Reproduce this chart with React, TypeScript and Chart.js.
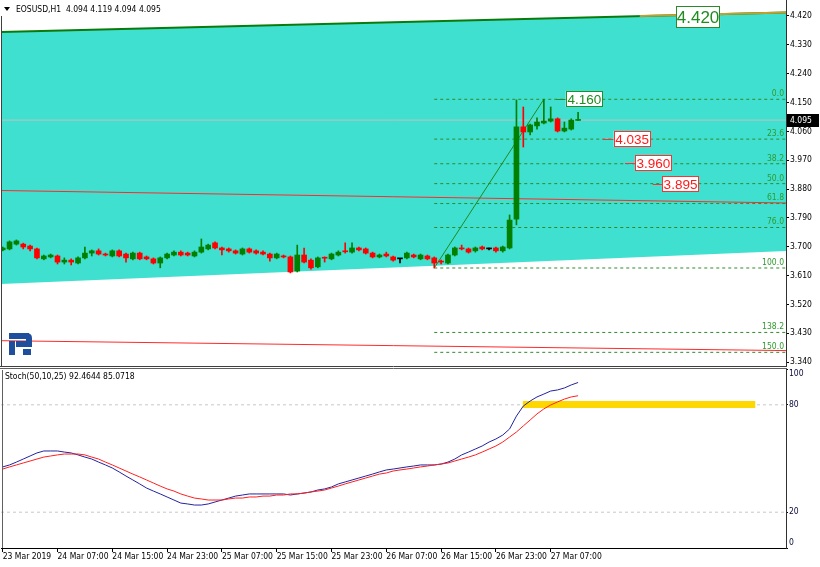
import React, { useEffect, useRef } from "react";
import { Chart, registerables } from "chart.js";

Chart.register(...registerables);

const FONT = "'DejaVu Sans Condensed', 'Liberation Sans', Arial, sans-serif";
const LABEL_FONT = "'Liberation Sans', Arial, sans-serif";
const SMALL = 8.5;

const symbolTitle = "EOSUSD,H1  4.094 4.119 4.094 4.095";
const stochTitle = "Stoch(50,10,25) 92.4644 85.0718";

// ---- time axis (bar index 0 = 23 Mar 23:00, H1 bars) ----
const timeTickBars = [0, 8, 16, 24, 32, 40, 48, 56, 64, 72, 80];
const timeTickLabels = [
  "23 Mar 2019", "24 Mar 07:00", "24 Mar 15:00", "24 Mar 23:00", "25 Mar 07:00",
  "25 Mar 15:00", "25 Mar 23:00", "26 Mar 07:00", "26 Mar 15:00", "26 Mar 23:00", "27 Mar 07:00",
];

// ---- OHLC ----
const opens = [
  3.690, 3.693, 3.708, 3.708, 3.702, 3.693, 3.662, 3.668, 3.671, 3.652,
  3.658, 3.649, 3.665, 3.680, 3.687, 3.677, 3.671, 3.687, 3.677, 3.662,
  3.680, 3.668, 3.662, 3.649, 3.665, 3.674, 3.683, 3.680, 3.671, 3.683,
  3.693, 3.712, 3.696, 3.693, 3.687, 3.677, 3.693, 3.687, 3.683, 3.677,
  3.665, 3.671, 3.668, 3.624, 3.674, 3.658, 3.637, 3.665, 3.662, 3.674,
  3.687, 3.683, 3.696, 3.693, 3.680, 3.668, 3.677, 3.668, 3.662, 3.665,
  3.674, 3.662, 3.671, 3.665, 3.655, 3.649, 3.674, 3.696, 3.693, 3.687,
  3.699, 3.693, 3.696, 3.687, 3.696, 3.786, 4.074, 4.058, 4.077, 4.086,
  4.092, 4.099, 4.061, 4.067, 4.094,
];
const highs = [
  3.699, 3.718, 3.721, 3.711, 3.705, 3.696, 3.674, 3.677, 3.674, 3.665,
  3.662, 3.668, 3.699, 3.690, 3.693, 3.680, 3.690, 3.690, 3.680, 3.683,
  3.683, 3.671, 3.665, 3.668, 3.680, 3.687, 3.687, 3.683, 3.687, 3.724,
  3.708, 3.715, 3.699, 3.696, 3.690, 3.696, 3.696, 3.690, 3.687, 3.680,
  3.680, 3.674, 3.671, 3.705, 3.696, 3.662, 3.668, 3.668, 3.680, 3.687,
  3.712, 3.712, 3.699, 3.696, 3.683, 3.677, 3.683, 3.671, 3.662, 3.683,
  3.677, 3.677, 3.674, 3.668, 3.658, 3.677, 3.699, 3.705, 3.696, 3.699,
  3.702, 3.696, 3.699, 3.702, 3.799, 4.158, 4.136, 4.083, 4.102, 4.160,
  4.136, 4.102, 4.089, 4.099, 4.119,
];
const lows = [
  3.687, 3.690, 3.705, 3.693, 3.687, 3.662, 3.659, 3.665, 3.646, 3.646,
  3.643, 3.646, 3.662, 3.671, 3.674, 3.671, 3.668, 3.668, 3.652, 3.659,
  3.659, 3.659, 3.646, 3.634, 3.662, 3.671, 3.671, 3.671, 3.668, 3.680,
  3.690, 3.693, 3.674, 3.683, 3.677, 3.674, 3.680, 3.677, 3.674, 3.655,
  3.662, 3.665, 3.618, 3.621, 3.649, 3.630, 3.634, 3.652, 3.659, 3.671,
  3.680, 3.680, 3.687, 3.677, 3.665, 3.665, 3.668, 3.655, 3.649, 3.662,
  3.665, 3.659, 3.659, 3.6335, 3.646, 3.646, 3.671, 3.690, 3.680, 3.683,
  3.690, 3.690, 3.683, 3.683, 3.693, 3.768, 4.011, 4.049, 4.067, 4.083,
  4.089, 4.058, 4.058, 4.064, 4.094,
];
const closes = [
  3.696, 3.715, 3.718, 3.699, 3.693, 3.665, 3.671, 3.674, 3.652, 3.658,
  3.652, 3.665, 3.680, 3.687, 3.677, 3.674, 3.687, 3.671, 3.665, 3.680,
  3.662, 3.662, 3.649, 3.665, 3.677, 3.683, 3.674, 3.674, 3.683, 3.699,
  3.705, 3.696, 3.690, 3.687, 3.680, 3.693, 3.683, 3.680, 3.677, 3.665,
  3.677, 3.668, 3.621, 3.674, 3.652, 3.634, 3.665, 3.664, 3.677, 3.683,
  3.684, 3.696, 3.690, 3.680, 3.668, 3.674, 3.671, 3.658, 3.662, 3.680,
  3.668, 3.674, 3.662, 3.649, 3.652, 3.674, 3.696, 3.693, 3.683, 3.696,
  3.693, 3.693, 3.687, 3.699, 3.783, 4.074, 4.058, 4.080, 4.089, 4.092,
  4.099, 4.061, 4.070, 4.095, 4.095,
];

// ---- Stochastic (50,10,25) ----
const stochMain = [
  45.3, 46.4, 48.0, 49.7, 51.4, 53.1, 54.2, 54.2, 54.2, 53.6,
  53.1, 52.0, 50.8, 49.7, 48.0, 46.4, 44.7, 42.5, 40.2, 38.0,
  35.8, 33.5, 31.8, 30.2, 28.5, 26.8, 25.1, 24.6, 24.0, 24.0,
  24.6, 25.7, 26.8, 27.9, 29.0, 29.6, 30.2, 30.2, 30.2, 30.2,
  30.2, 30.2, 29.6, 30.2, 30.7, 31.3, 32.4, 33.0, 34.1, 35.8,
  36.9, 38.0, 39.1, 40.2, 41.3, 42.5, 43.6, 44.1, 44.7, 45.3,
  45.8, 46.4, 46.4, 46.4, 46.9, 48.0, 49.7, 52.0, 53.6, 55.3,
  57.0, 59.2, 60.9, 63.1, 66.5, 73.7, 79.3, 82.1, 84.4, 86.0,
  87.7, 88.3, 89.4, 91.1, 92.4644,
];
const stochSignal = [
  44.1, 45.3, 46.4, 47.5, 48.6, 49.7, 50.8, 51.4, 52.0, 52.5,
  52.5, 52.5, 52.0, 50.8, 49.7, 48.0, 46.4, 44.7, 43.0, 41.3,
  39.7, 38.0, 36.3, 34.6, 33.0, 31.8, 30.2, 29.0, 27.9, 27.4,
  26.8, 26.8, 26.8, 27.4, 27.9, 27.9, 28.5, 28.5, 29.0, 29.0,
  29.6, 29.6, 30.2, 30.2, 30.7, 31.3, 31.8, 32.4, 33.5, 34.6,
  35.8, 36.9, 38.0, 39.1, 40.2, 41.3, 41.9, 43.0, 43.6, 44.1,
  44.7, 45.3, 45.8, 46.4, 46.9, 47.5, 48.6, 49.7, 50.8, 52.0,
  53.6, 55.3, 57.0, 59.2, 62.0, 64.8, 68.2, 71.5, 74.9, 77.7,
  79.9, 81.6, 83.2, 84.4, 85.0718,
];

// ---- axis ticks / ranges ----
const priceTicks = [3.34, 3.43, 3.52, 3.61, 3.70, 3.79, 3.88, 3.97, 4.06, 4.15, 4.24, 4.33, 4.42];
const stochTicks = [0, 20, 80, 100];
const stochLevels = [20, 80];
const X_MIN = -0.248;
const X_MAX = 114.35;
const PRICE_MIN = 3.3276;
const PRICE_MAX = 4.4699;

// ---- drawing objects (prices at channel ends = [left edge, right edge]) ----
const channelTop = [4.370, 4.4309];
const channelBottom = [3.5836, 3.6866];
const goldSegmentBars = [93, X_MAX];
const goldSegment = [4.4196, 4.4309];
const redUpper = [3.8753, 3.8364];
const redLower = [3.4066, 3.3757];
const currentPrice = 4.095;

const fibStartBar = 63;
const fibEndBar = 79;
const fibLow = 3.6335;
const fibHigh = 4.160;
const fibLevels = [0, 23.6, 38.2, 50, 61.8, 76, 100, 138.2, 150];

const labelPrices = [4.420, 4.160, 4.035, 3.960, 3.895];
const labelBars = [98.3, 82.2, 89.2, 92.3, 96.25];
const labelLeaderBars = [null, 80.8, 87.6, 90.85, 94.9];
const labelKinds = ["big", "green", "red", "red", "red"];

const stochZoneBars = [75.9, 109.9];
const stochZone = [78.2, 82.1];

const BULL = "#008000";
const BEAR = "#ff0000";
const DOJI = "#000000";
const candleColors = opens.map((o, i) => (closes[i] > o ? BULL : closes[i] < o ? BEAR : DOJI));

const seg = (x0: number, x1: number, y0: number, y1: number) => [
  { x: x0, y: y0 },
  { x: x1, y: y1 },
];

function lineDs(data: any[], color: string, width: number, order: number, extra: any = {}) {
  return {
    type: "line",
    data,
    borderColor: color,
    borderWidth: width,
    pointRadius: 0,
    fill: false,
    tension: 0,
    order,
    ...extra,
  };
}

const fibPrice = (lvl: number) => fibHigh - ((fibHigh - fibLow) * lvl) / 100;

const noPad = (s: any) => {
  s.paddingTop = 0;
  s.paddingBottom = 0;
  s.paddingLeft = 0;
  s.paddingRight = 0;
};

function drawBox(ctx: CanvasRenderingContext2D, x: number, yc: number, w: number, h: number, text: string, color: string, textColor: string, size: number) {
  ctx.fillStyle = "#ffffff";
  ctx.fillRect(x, Math.round(yc - h / 2), w, h);
  ctx.strokeStyle = color;
  ctx.lineWidth = 1;
  ctx.strokeRect(Math.round(x) + 0.5, Math.round(yc - h / 2) + 0.5, w - 1, h - 1);
  ctx.fillStyle = textColor;
  ctx.font = `${size}px ${LABEL_FONT}`;
  ctx.textAlign = "center";
  ctx.textBaseline = "middle";
  ctx.fillText(text, x + w / 2, yc + 1);
}

const priceOverlay = {
  id: "priceOverlay",
  afterDraw(chart: any) {
    const { ctx, chartArea } = chart;
    const xs = chart.scales.x;
    const ys = chart.scales.y;
    ctx.save();
    // frame
    ctx.strokeStyle = "#404040";
    ctx.lineWidth = 1;
    ctx.beginPath();
    ctx.moveTo(1.5, 16);
    ctx.lineTo(1.5, chartArea.bottom);
    ctx.moveTo(0, chartArea.bottom + 0.5);
    ctx.lineTo(chartArea.right + 1, chartArea.bottom + 0.5);
    ctx.stroke();

    // fibo level captions
    ctx.font = `${SMALL}px ${FONT}`;
    ctx.fillStyle = "#2e9a2e";
    ctx.textAlign = "right";
    ctx.textBaseline = "bottom";
    fibLevels.forEach((lvl) => {
      const py = ys.getPixelForValue(fibPrice(lvl));
      ctx.fillText(lvl.toFixed(1), chartArea.right - 2, py - 1);
    });

    // price label objects
    labelPrices.forEach((p, i) => {
      const kind = labelKinds[i];
      const px = xs.getPixelForValue(labelBars[i]);
      const py = ys.getPixelForValue(p);
      const isRed = kind === "red";
      const col = isRed ? "#ff3030" : "#2a8a2a";
      const tcol = isRed ? "#ff1a1a" : "#1e8c1e";
      const lb = labelLeaderBars[i];
      if (lb !== null) {
        ctx.strokeStyle = col;
        ctx.lineWidth = 1;
        ctx.beginPath();
        ctx.moveTo(xs.getPixelForValue(lb), Math.round(py) + 0.5);
        ctx.lineTo(px, Math.round(py) + 0.5);
        ctx.stroke();
      }
      if (kind === "big") drawBox(ctx, px, py + 1, 44, 22, p.toFixed(3), col, tcol, 17);
      else drawBox(ctx, px, py, 37, 16, p.toFixed(3), col, tcol, 13.5);
    });

    // current price tag on axis
    const cy = ys.getPixelForValue(currentPrice);
    ctx.fillStyle = "#000000";
    ctx.fillRect(chartArea.right + 1, Math.round(cy) - 6, 32, 13);
    ctx.fillStyle = "#ffffff";
    ctx.font = `${SMALL}px ${FONT}`;
    ctx.textAlign = "left";
    ctx.textBaseline = "middle";
    ctx.fillText(currentPrice.toFixed(3), chartArea.right + 4, Math.round(cy) + 0.5);

    // title
    ctx.fillStyle = "#000000";
    ctx.beginPath();
    ctx.moveTo(4, 7);
    ctx.lineTo(10, 7);
    ctx.lineTo(7, 11);
    ctx.closePath();
    ctx.fill();
    ctx.font = `${SMALL}px ${FONT}`;
    ctx.textAlign = "left";
    ctx.textBaseline = "middle";
    ctx.fillText(symbolTitle, 16, 9.5);

    // logo
    ctx.fillStyle = "#1f4f9c";
    ctx.fillRect(9, 333, 20, 6);
    ctx.beginPath();
    ctx.moveTo(26, 333);
    ctx.quadraticCurveTo(32, 333, 32, 338);
    ctx.lineTo(32, 347);
    ctx.lineTo(26, 347);
    ctx.closePath();
    ctx.fill();
    ctx.fillRect(16, 341, 16, 6);
    ctx.fillRect(9, 341, 6, 14);
    ctx.fillRect(23, 349, 8, 6);
    ctx.restore();
  },
};

const stochOverlay = {
  id: "stochOverlay",
  afterDraw(chart: any) {
    const { ctx, chartArea } = chart;
    const ys = chart.scales.y;
    ctx.save();
    ctx.strokeStyle = "#606060";
    ctx.lineWidth = 1;
    ctx.beginPath();
    ctx.moveTo(0, 0.5);
    ctx.lineTo(chartArea.right + 1, 0.5);
    ctx.moveTo(2.5, 2);
    ctx.lineTo(2.5, chartArea.bottom);
    ctx.stroke();
    ctx.fillStyle = "#000000";
    ctx.font = `${SMALL}px ${FONT}`;
    ctx.textAlign = "left";
    ctx.textBaseline = "middle";
    ctx.fillText(stochTitle, 5, 8.5);
    ctx.fillStyle = "#0a0a3a";
    ctx.fillText("100", chartArea.right + 3, ys.getPixelForValue(100) + 5);
    ctx.fillText("0", chartArea.right + 3, ys.getPixelForValue(0) - 5);
    ctx.restore();
  },
};

export default function App() {
  const priceRef = useRef<HTMLCanvasElement>(null);
  const stochRef = useRef<HTMLCanvasElement>(null);

  useEffect(() => {
    const fibDatasets = fibLevels.map((lvl) =>
      lineDs(seg(fibStartBar, X_MAX, fibPrice(lvl), fibPrice(lvl)), "#2e8b2e", 1, 6, { borderDash: [3, 3] })
    );
    const priceChart = new Chart(priceRef.current as HTMLCanvasElement, {
      type: "bar",
      data: {
        datasets: [
          lineDs(seg(X_MIN, X_MAX, channelTop[0], channelTop[1]), "#0b7a0b", 2, 20, {
            fill: "+1",
            backgroundColor: "#40e0d0",
          }),
          lineDs(seg(X_MIN, X_MAX, channelBottom[0], channelBottom[1]), "rgba(0,0,0,0)", 0, 19),
          lineDs(seg(goldSegmentBars[0], goldSegmentBars[1], goldSegment[0], goldSegment[1]), "#c0a030", 2, 18),
          lineDs(seg(X_MIN, X_MAX, redUpper[0], redUpper[1]), "#ff2a2a", 1, 8),
          lineDs(seg(X_MIN, X_MAX, redLower[0], redLower[1]), "#ff2a2a", 1, 8),
          lineDs(seg(X_MIN, X_MAX, currentPrice, currentPrice), "#c0c0c0", 1, 9),
          ...fibDatasets,
          lineDs(seg(fibStartBar, fibEndBar, fibLow, fibHigh), "#1e8a1e", 1, 5),
          {
            type: "bar",
            data: highs.map((h, i) => ({ x: i, y: [lows[i], h] })),
            backgroundColor: candleColors,
            barThickness: 1,
            grouped: false,
            borderWidth: 0,
            order: 2,
          },
          {
            type: "bar",
            data: opens.map((o, i) => ({ x: i, y: [o, closes[i]] })),
            backgroundColor: candleColors,
            barThickness: 5,
            grouped: false,
            borderWidth: 0,
            minBarLength: 1,
            order: 1,
          },
        ] as any,
      },
      options: {
        responsive: false,
        maintainAspectRatio: false,
        animation: false,
        events: [],
        layout: { padding: { left: 1, top: 0, right: 0, bottom: 2 } },
        plugins: { legend: { display: false }, tooltip: { enabled: false } },
        scales: {
          x: { type: "linear", min: X_MIN, max: X_MAX, offset: false, display: false },
          y: {
            type: "linear",
            position: "right",
            min: PRICE_MIN,
            max: PRICE_MAX,
            afterBuildTicks: (s: any) => {
              s.ticks = priceTicks.map((v) => ({ value: v }));
            },
            afterFit: (s: any) => {
              s.width = 34;
              noPad(s);
            },
            grid: { drawOnChartArea: false, drawTicks: true, tickLength: 3, color: "#000" },
            border: { display: true, color: "#303030", width: 1 },
            ticks: {
              padding: 1,
              color: "#000",
              autoSkip: false,
              font: { family: FONT, size: SMALL },
              callback: (v: any) => Number(v).toFixed(3),
            },
          },
        },
      } as any,
      plugins: [priceOverlay],
    });

    const stochChart = new Chart(stochRef.current as HTMLCanvasElement, {
      type: "line",
      data: {
        datasets: [
          ...stochLevels.map((lv) => lineDs(seg(X_MIN, X_MAX, lv, lv), "#c8c8c8", 1, 10, { borderDash: [3, 3] })),
          lineDs(seg(stochZoneBars[0], stochZoneBars[1], stochZone[1], stochZone[1]), "rgba(0,0,0,0)", 0, 8, {
            fill: "+1",
            backgroundColor: "#ffd700",
          }),
          lineDs(seg(stochZoneBars[0], stochZoneBars[1], stochZone[0], stochZone[0]), "rgba(0,0,0,0)", 0, 7),
          lineDs(stochMain.map((v, i) => ({ x: i, y: v })), "#2323a0", 1, 2),
          lineDs(stochSignal.map((v, i) => ({ x: i, y: v })), "#ff2020", 1, 1),
        ] as any,
      },
      options: {
        responsive: false,
        maintainAspectRatio: false,
        animation: false,
        events: [],
        layout: { padding: { left: 1, top: 1, right: 0, bottom: 0 } },
        plugins: { legend: { display: false }, tooltip: { enabled: false } },
        scales: {
          x: {
            type: "linear",
            min: X_MIN,
            max: X_MAX,
            offset: false,
            position: "bottom",
            afterBuildTicks: (s: any) => {
              s.ticks = timeTickBars.map((v) => ({ value: v }));
            },
            afterFit: (s: any) => {
              s.height = 19;
              noPad(s);
            },
            grid: { drawOnChartArea: false, drawTicks: true, tickLength: 4, color: "#000" },
            border: { display: true, color: "#000", width: 1 },
            ticks: {
              align: "start",
              padding: 0,
              maxRotation: 0,
              minRotation: 0,
              autoSkip: false,
              color: "#000",
              font: { family: FONT, size: SMALL },
              callback: (_v: any, i: number) => timeTickLabels[i],
            },
          },
          y: {
            type: "linear",
            position: "right",
            min: 0,
            max: 100,
            afterBuildTicks: (s: any) => {
              s.ticks = stochTicks.map((v) => ({ value: v }));
            },
            afterFit: (s: any) => {
              s.width = 34;
              noPad(s);
            },
            grid: { drawOnChartArea: false, drawTicks: true, tickLength: 2, color: "#000" },
            border: { display: true, color: "#303030", width: 1 },
            ticks: {
              padding: 1,
              color: "#0a0a3a",
              autoSkip: false,
              font: { family: FONT, size: SMALL },
              callback: (v: any) => (v === 20 || v === 80 ? String(v) : ""),
            },
          },
        },
      } as any,
      plugins: [stochOverlay],
    });

    return () => {
      priceChart.destroy();
      stochChart.destroy();
    };
  }, []);

  return (
    <div style={{ position: "fixed", left: 0, top: 0, width: 820, height: 567, background: "#ffffff", overflow: "hidden" }}>
      <canvas ref={priceRef} width={820} height={368} style={{ position: "absolute", left: 0, top: 0, width: 820, height: 368 }} />
      <canvas ref={stochRef} width={820} height={199} style={{ position: "absolute", left: 0, top: 368, width: 820, height: 199 }} />
    </div>
  );
}
